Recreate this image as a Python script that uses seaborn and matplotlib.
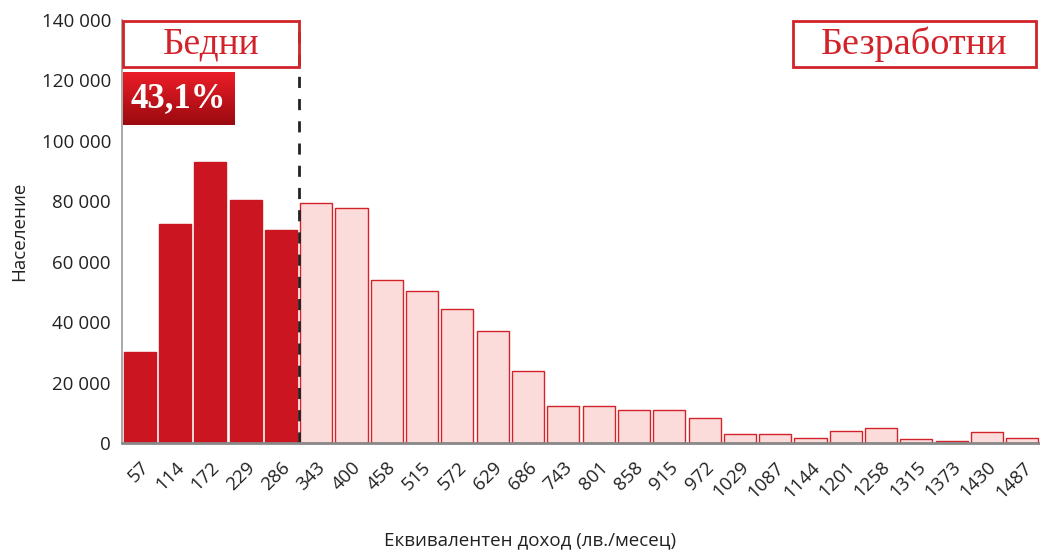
import numpy as np
import pandas as pd
import matplotlib.pyplot as plt
import matplotlib as mpl
import seaborn as sns
from matplotlib.patches import Rectangle
from matplotlib.ticker import FuncFormatter

sns.set_style('white')
mpl.rcParams['font.family'] = ['Open Sans', 'DejaVu Sans']

# income bins (lv./month) and population counts
income = ['57', '114', '172', '229', '286', '343', '400', '458', '515', '572',
          '629', '686', '743', '801', '858', '915', '972', '1029', '1087', '1144',
          '1201', '1258', '1315', '1373', '1430', '1487']
population = [30000, 72500, 93000, 80500, 70500, 79500, 77800, 54000, 50300, 44400,
              37000, 23800, 12300, 12300, 10900, 10900, 8300, 3000, 3000, 1800,
              3800, 5000, 1200, 800, 3500, 1700]
n_poor = 5
poor_share = '43,1%'

df = pd.DataFrame({'Доход': income, 'Население': population})
df['Група'] = ['poor'] * n_poor + ['other'] * (len(income) - n_poor)

red = '#CB1520'
light = '#FCDCDA'
edge = '#D2232A'

fig = plt.figure(figsize=(10.4, 5.52), dpi=100)
ax = fig.add_axes([0.1173, 0.1975, 0.8827, 0.7663])

sns.barplot(data=df, x='Доход', y='Население', hue='Група',
            palette={'poor': red, 'other': light}, dodge=False, width=0.91,
            saturation=1, legend=False, ax=ax)
for p, g in zip(ax.patches, df['Група']):
    p.set_edgecolor(red if g == 'poor' else edge)
    p.set_linewidth(1.0)

ax.set_xlim(-0.5, len(income) - 0.5)
ax.set_ylim(0, 140000)
ax.set_yticks(np.arange(0, 140001, 20000))
ax.yaxis.set_major_formatter(FuncFormatter(lambda v, _: f'{int(v):,}'.replace(',', ' ')))
ax.tick_params(axis='y', labelsize=13.5, colors='#222222', length=0, pad=8)
ax.tick_params(axis='x', labelsize=13.5, colors='#222222', length=0, pad=11)
plt.setp(ax.get_xticklabels(), rotation=45, ha='right', rotation_mode='anchor')

for s in ['top', 'right']:
    ax.spines[s].set_visible(False)
ax.spines['left'].set_color('#999999')
ax.spines['left'].set_linewidth(1.2)
ax.spines['bottom'].set_color('#888888')
ax.spines['bottom'].set_linewidth(2)

ax.set_ylabel('Население', fontsize=13.5, color='#222222')
ax.yaxis.set_label_coords(-0.102, 0.5)
ax.set_xlabel('Еквивалентен доход (лв./месец)', fontsize=13.5, color='#222222')
ax.xaxis.set_label_coords(0.444, -0.208)

# poverty line
cut = n_poor - 0.5
ax.plot([cut, cut], [0, 140000], ls=(0, (4, 4)), color='#222222', lw=2, clip_on=False)

# labels boxes
serif = ['Liberation Serif', 'DejaVu Serif']
ax.add_patch(Rectangle((-0.47, 124500), cut + 0.47, 15300, fill=False, ec=edge, lw=2,
                       clip_on=False, zorder=5))
ax.text((cut - 0.47) / 2, 132000, 'Бедни', ha='center', va='center', fontsize=27,
        color=edge, family=serif, zorder=6)
ax.add_patch(Rectangle((18.5, 124500), 6.9, 15300, fill=False, ec=edge, lw=2,
                       clip_on=False, zorder=5))
ax.text(21.95, 132000, 'Безработни', ha='center', va='center', fontsize=27.5,
        color=edge, family=serif, zorder=6)

# gradient box with poor share
grad = mpl.colors.LinearSegmentedColormap.from_list('g', ['#9A0A10', '#EC1D27'])
ax.imshow(np.linspace(0, 1, 100).reshape(-1, 1), cmap=grad, aspect='auto',
          extent=(-0.47, 2.68, 105300, 122700), origin='lower', zorder=5)
ax.text(1.1, 114000, poor_share, ha='center', va='center', fontsize=25,
        fontweight='bold', color='white', family=serif, zorder=6)
ax.set_xlim(-0.5, len(income) - 0.5)
ax.set_ylim(0, 140000)

fig.savefig('out.png', dpi=100)
